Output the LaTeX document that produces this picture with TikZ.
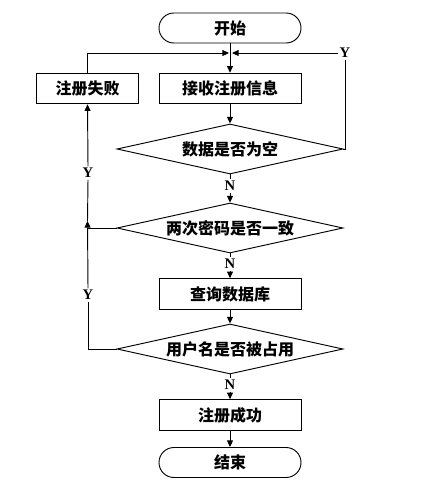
\documentclass[tikz,border=0pt]{standalone}
\usepackage{fontspec}
\setmainfont{Liberation Serif}
\newfontfamily\cjk{Noto Sans CJK SC}
\usepackage{tikz}
\usetikzlibrary{shapes,arrows,positioning,calc,arrows.meta}

\begin{document}
\begin{tikzpicture}[x=0.75pt,y=-0.75pt,
    line width=0.7pt,
    arr/.style={-{Triangle[length=5pt,width=4.5pt]}},
    term/.style={draw,rectangle,rounded corners=11.2pt,minimum width=106.5pt,minimum height=22.5pt,font=\cjk\bfseries\fontsize{12}{14}\selectfont},
    proc/.style={draw,rectangle,minimum width=106.5pt,minimum height=23pt,font=\cjk\bfseries\fontsize{12}{14}\selectfont},
    cond/.style={draw,diamond,aspect=4.5,inner sep=0pt,minimum width=169.5pt,minimum height=37.5pt,font=\cjk\bfseries\fontsize{12}{14}\selectfont},
    lab/.style={inner sep=1pt,fill=white,font=\bfseries\fontsize{11}{12}\selectfont}]
    \useasboundingbox (0,0) rectangle (439,486);

    % Main column
    \node[term] (start) at (230,28) {开始};
    \node[proc] (recv) at (230,88.5) {接收注册信息};
    \node[proc,minimum width=77pt] (fail) at (87.5,88.5) {注册失败};
    \node[cond] (empty) at (230,149) {数据是否为空};
    \node[cond] (same) at (230,228) {两次密码是否一致};
    \node[proc] (query) at (230,294) {查询数据库};
    \node[cond] (taken) at (230,349) {用户名是否被占用};
    \node[proc] (ok) at (230,415) {注册成功};
    \node[term] (stop) at (230,462.5) {结束};

    % Labels
    \node[lab] (n1) at (230,186) {N};
    \node[lab] (n2) at (230,264) {N};
    \node[lab] (n3) at (230,385) {N};
    \node[lab] (yr) at (345,53) {Y};
    \node[lab] (y1) at (88,173) {Y};
    \node[lab] (y2) at (88,295) {Y};

    \coordinate (jl) at (229,53);
    \coordinate (jr) at (232,53);
    \coordinate (k2) at (same.west -| fail);

    % Straight flow
    \draw[arr] (start) -- (recv);
    \draw[arr] (recv) -- (empty);
    \draw (empty.south) -- (n1.north);
    \draw[arr] (n1.south) -- (same.north);
    \draw (same.south) -- (n2.north);
    \draw[arr] (n2.south) -- (query.north);
    \draw[arr] (query) -- (taken);
    \draw (taken.south) -- (n3.north);
    \draw[arr] (n3.south) -- (ok.north);
    \draw[arr] (ok) -- (stop);

    % Back loops
    \draw (empty.east) -| (yr.south);
    \draw[arr] (yr.west) -- (jr);
    \draw[arr] (fail.north) |- (jl);
    \draw (taken.west) -| (y2.south);
    \draw[arr] (y2.north) -- ($(k2)+(0,-7)$);
    \draw ($(k2)+(0,-7)$) -- (y1.south);
    \draw (same.west) -- (k2);
    \draw[arr] (y1.north) -- (fail.south);
\end{tikzpicture}
\end{document}
